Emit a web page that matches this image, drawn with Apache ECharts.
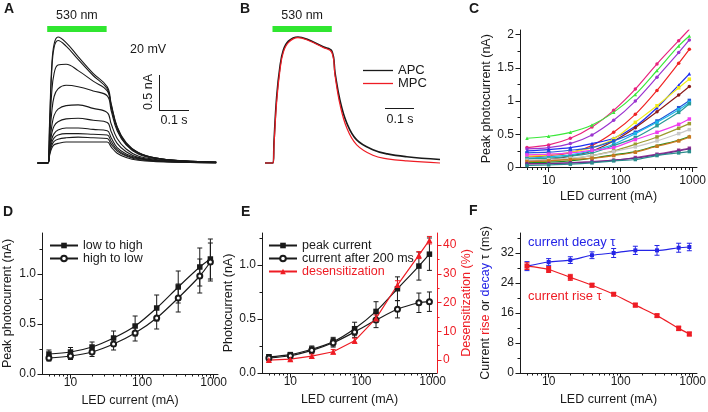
<!DOCTYPE html>
<html>
<head>
<meta charset="utf-8">
<script src="https://cdn.jsdelivr.net/npm/echarts@6/dist/echarts.min.js"></script>
<style>
  html, body { margin: 0; padding: 0; background: #fff; }
  #chart { width: 708px; height: 412px; }
</style>
</head>
<body>
<div id="chart"></div>
<script>
'use strict';

/******************** DATA ********************/
// A: photocurrent traces at increasing LED intensity (time in s from light on, current in nA)
var traceTime = [-0.035, -0.001, 0.005, 0.012, 0.02, 0.033, 0.06, 0.1, 0.15, 0.197, 0.21, 0.23, 0.26, 0.3, 0.36, 0.45, 0.56];
var tracesA = [
  [0, 0, 0.60, 1.38, 1.70, 1.80, 1.72, 1.52, 1.28, 1.09, 0.85, 0.52, 0.29, 0.15, 0.07, 0.03, 0.01],
  [0, 0, 0.55, 1.30, 1.65, 1.75, 1.67, 1.48, 1.25, 1.06, 0.83, 0.51, 0.28, 0.15, 0.07, 0.03, 0.01],
  [0, 0, 0.45, 1.00, 1.28, 1.40, 1.41, 1.32, 1.17, 1.03, 0.80, 0.49, 0.27, 0.14, 0.07, 0.03, 0.01],
  [0, 0, 0.35, 0.72, 0.95, 1.06, 1.11, 1.09, 1.03, 0.96, 0.75, 0.46, 0.26, 0.13, 0.06, 0.03, 0.01],
  [0, 0, 0.27, 0.52, 0.68, 0.77, 0.82, 0.83, 0.78, 0.72, 0.56, 0.35, 0.20, 0.10, 0.05, 0.02, 0.01],
  [0, 0, 0.22, 0.42, 0.53, 0.59, 0.63, 0.64, 0.61, 0.58, 0.45, 0.28, 0.16, 0.08, 0.04, 0.02, 0.01],
  [0, 0, 0.18, 0.34, 0.42, 0.47, 0.50, 0.50, 0.48, 0.46, 0.36, 0.22, 0.13, 0.07, 0.03, 0.02, 0.01],
  [0, 0, 0.15, 0.29, 0.36, 0.40, 0.42, 0.42, 0.41, 0.40, 0.31, 0.19, 0.11, 0.06, 0.03, 0.01, 0.01],
  [0, 0, 0.13, 0.25, 0.31, 0.34, 0.36, 0.37, 0.36, 0.35, 0.27, 0.17, 0.10, 0.05, 0.03, 0.01, 0],
  [0, 0, 0.11, 0.21, 0.26, 0.28, 0.30, 0.30, 0.30, 0.30, 0.23, 0.14, 0.08, 0.04, 0.02, 0.01, 0]
];

// B: APC vs MPC (same scale as A)
var timeB = [-0.028, -0.001, 0.002, 0.011, 0.022, 0.033, 0.05, 0.082, 0.111, 0.166, 0.195, 0.206, 0.222, 0.245, 0.278, 0.332, 0.38, 0.445, 0.556];
var apcTrace = [0, 0, 0.30, 0.95, 1.38, 1.61, 1.74, 1.80, 1.77, 1.66, 1.60, 1.28, 0.90, 0.57, 0.33, 0.19, 0.13, 0.09, 0.05];
var mpcTrace = [0, 0, 0.25, 0.88, 1.33, 1.58, 1.72, 1.79, 1.76, 1.65, 1.58, 1.24, 0.84, 0.50, 0.26, 0.11, 0.06, 0.03, 0.0];
var lightPulse = [-0.003, 0.195];

// LED currents used in C-F (mA)
var ledCurrent = [5, 10, 20, 40, 80, 160, 320, 640, 900];
var logTicks = [10, 100, 1000];
var logMinorTicks = [5, 6, 7, 8, 9, 20, 30, 40, 50, 60, 70, 80, 90, 200, 300, 400, 500, 600, 700, 800, 900];

// C: single cells, peak photocurrent (nA)
var cellCurves = [
  [0.30, 0.34, 0.44, 0.61, 0.86, 1.18, 1.56, 1.91, 2.08],
  [0.44, 0.47, 0.53, 0.64, 0.83, 1.10, 1.46, 1.83, 1.98],
  [0.28, 0.30, 0.36, 0.49, 0.71, 1.00, 1.36, 1.73, 1.92],
  [0.16, 0.18, 0.22, 0.33, 0.53, 0.80, 1.16, 1.57, 1.78],
  [0.25, 0.27, 0.30, 0.36, 0.44, 0.62, 0.90, 1.24, 1.41],
  [0.17, 0.19, 0.23, 0.30, 0.43, 0.68, 0.93, 1.20, 1.33],
  [0.10, 0.12, 0.17, 0.25, 0.40, 0.60, 0.84, 1.09, 1.22],
  [0.22, 0.23, 0.26, 0.30, 0.40, 0.53, 0.70, 0.90, 1.01],
  [0.14, 0.16, 0.19, 0.25, 0.35, 0.51, 0.68, 0.87, 0.98],
  [0.13, 0.14, 0.17, 0.22, 0.33, 0.45, 0.63, 0.83, 0.96],
  [0.19, 0.20, 0.22, 0.26, 0.30, 0.42, 0.53, 0.65, 0.73],
  [0.08, 0.10, 0.13, 0.18, 0.25, 0.35, 0.46, 0.59, 0.66],
  [0.11, 0.12, 0.14, 0.18, 0.24, 0.31, 0.40, 0.51, 0.57],
  [0.07, 0.08, 0.10, 0.14, 0.19, 0.24, 0.33, 0.41, 0.47],
  [0.09, 0.10, 0.12, 0.14, 0.18, 0.23, 0.32, 0.40, 0.46],
  [0.05, 0.06, 0.07, 0.09, 0.11, 0.15, 0.20, 0.26, 0.29],
  [0.06, 0.06, 0.07, 0.08, 0.11, 0.14, 0.19, 0.25, 0.28],
  [0.03, 0.04, 0.05, 0.07, 0.10, 0.12, 0.18, 0.22, 0.24]
];
var cellColors = ['#e8237d', '#3be83b', '#9b35d0', '#f02424', '#1f2ef0', '#f0ec1a', '#8c1c1c', '#2457d6', '#19b8e8',
                  '#2a9a96', '#f03cf0', '#9c9a2e', '#c8c8c8', '#1e8c1e', '#c8781e', '#9a3a9a', '#6e2a8c', '#2a8c8c'];
var cellSymbols = ['circle', 'triangle', 'circle', 'circle', 'triangle', 'rect', 'circle', 'rect', 'rect',
                   'rect', 'rect', 'rect', 'rect', 'triangle', 'rect', 'rect', 'circle', 'rect'];

// D: order of stimulation (nA, mean and error)
var lowToHigh = [0.20, 0.22, 0.27, 0.36, 0.48, 0.66, 0.87, 1.07, 1.15];
var lowToHighErr = [0.04, 0.045, 0.05, 0.07, 0.10, 0.13, 0.16, 0.19, 0.20];
var highToLow = [0.16, 0.18, 0.22, 0.30, 0.41, 0.56, 0.76, 0.98, 1.12];
var highToLowErr = [0.03, 0.035, 0.045, 0.06, 0.08, 0.11, 0.14, 0.17, 0.19];

// E: peak vs sustained current (nA) and desensitization (%)
var peakCurrent = [0.15, 0.17, 0.22, 0.29, 0.41, 0.57, 0.78, 0.99, 1.10];
var peakErr = [0.02, 0.02, 0.03, 0.04, 0.06, 0.09, 0.11, 0.13, 0.15];
var after200 = [0.14, 0.16, 0.21, 0.28, 0.38, 0.49, 0.59, 0.65, 0.66];
var after200Err = [0.02, 0.02, 0.03, 0.04, 0.05, 0.07, 0.08, 0.09, 0.09];
var desens = [0.0, 0.3, 1.4, 2.9, 6.7, 14.5, 26.1, 36.5, 41.7];
var desensErr = [0.6, 0.6, 0.7, 0.8, 0.9, 1.2, 1.5, 1.2, 1.3];

// F: time constants (ms)
var decayTau = [28.5, 29.6, 30.1, 31.4, 32.0, 32.7, 32.7, 33.4, 33.6];
var decayErr = [1.2, 0.9, 0.9, 0.9, 1.2, 1.1, 1.3, 1.2, 1.0];
var riseTau = [28.5, 27.6, 25.5, 23.4, 21.0, 18.1, 15.3, 11.9, 10.4];
var riseErr = [0.9, 0.8, 0.8, 0.5, 0.4, 0.5, 0.4, 0.6, 0.5];

/******************** HELPERS ********************/
var font = 'Liberation Sans, Arial, Helvetica, sans-serif';
var ink = '#1a1a1a';
var red = '#ee1c24';
var blue = '#2424e6';

function pairs(xs, ys) {
  return xs.map(function (x, i) { return [x, ys[i]]; });
}

function errorBars(xi, yi, vals, errs, color, cap) {
  return {
    type: 'custom', xAxisIndex: xi, yAxisIndex: yi, z: 1, silent: true,
    data: ledCurrent.map(function (x, i) { return [x, vals[i] - errs[i], vals[i] + errs[i]]; }),
    encode: { x: 0, y: [1, 2] },
    renderItem: function (params, api) {
      var lo = api.coord([api.value(0), api.value(1)]);
      var hi = api.coord([api.value(0), api.value(2)]);
      var st = { stroke: color, lineWidth: 1 };
      return {
        type: 'group', children: [
          { type: 'line', shape: { x1: lo[0], y1: lo[1], x2: hi[0], y2: hi[1] }, style: st },
          { type: 'line', shape: { x1: lo[0] - cap, y1: lo[1], x2: lo[0] + cap, y2: lo[1] }, style: st },
          { type: 'line', shape: { x1: hi[0] - cap, y1: hi[1], x2: hi[0] + cap, y2: hi[1] }, style: st }
        ]
      };
    }
  };
}

// log LED-current axis, major + minor pair
function logX(grid, margin, gap) {
  var base = {
    type: 'log', logBase: 10, gridIndex: grid, min: 4, max: 1150, position: 'bottom',
    splitLine: { show: false }
  };
  var major = Object.assign({}, base, {
    axisLine: { onZero: false, lineStyle: { color: ink, width: 1 } },
    axisTick: { customValues: logTicks, length: 4.5, lineStyle: { color: ink } },
    axisLabel: { customValues: logTicks, margin: margin, fontSize: 12, fontFamily: font, color: ink,
                 formatter: function (v) { return String(Math.round(v)); } },
    name: 'LED current (mA)', nameLocation: 'middle', nameGap: gap,
    nameTextStyle: { fontSize: 12.5, fontFamily: font, color: ink }
  });
  var minor = Object.assign({}, base, {
    axisLine: { show: false, onZero: false },
    axisTick: { customValues: logMinorTicks, length: 2.5, lineStyle: { color: ink } },
    axisLabel: { show: false }
  });
  return [major, minor];
}

function valY(grid, min, max, ticks, minorTicks, opt) {
  var color = opt.color || ink;
  var pos = opt.position || 'left';
  var base = { type: 'value', gridIndex: grid, min: min, max: max, position: pos, splitLine: { show: false } };
  var major = Object.assign({}, base, {
    axisLine: { show: true, onZero: false, lineStyle: { color: color, width: 1 } },
    axisTick: { show: true, customValues: ticks, length: 4.5, lineStyle: { color: color } },
    axisLabel: { customValues: ticks, margin: 6, fontSize: 12, fontFamily: font, color: color,
                 formatter: opt.formatter },
    name: opt.name, nameLocation: 'middle', nameRotate: 90, nameGap: opt.gap,
    nameTextStyle: Object.assign({ fontSize: 12.5, fontFamily: font, color: color }, opt.nameStyle || {})
  });
  var minor = Object.assign({}, base, {
    axisLine: { show: false, onZero: false },
    axisTick: { show: true, customValues: minorTicks, length: 2.5, lineStyle: { color: color } },
    axisLabel: { show: false }
  });
  return [major, minor];
}

function oneDecimal(v) { return Number(v).toFixed(1); }

/******************** CHART ********************/
var chart = echarts.init(document.getElementById('chart'));

var xAxes = [
  { type: 'value', gridIndex: 0, min: -0.037, max: 0.556, show: false },
  { type: 'value', gridIndex: 1, min: -0.028, max: 0.556, show: false }
]
  .concat(logX(2, 7, 23))
  .concat(logX(3, 3, 20))
  .concat(logX(4, 3, 20))
  .concat(logX(5, 3, 20));

var yAxes = [
  { type: 'value', gridIndex: 0, min: -0.1, max: 2.043, show: false },
  { type: 'value', gridIndex: 1, min: -0.1, max: 2.043, show: false }
]
  .concat(valY(2, 0, 2.07, [0, 0.5, 1, 1.5, 2], [0.25, 0.75, 1.25, 1.75],
               { name: 'Peak photocurrent (nA)', gap: 24 }))
  .concat(valY(3, 0, 1.41, [0, 0.5, 1.0], [0.25, 0.75, 1.25],
               { name: 'Peak photocurrent (nA)', gap: 28, formatter: oneDecimal }))
  .concat(valY(4, 0, 1.296, [0, 0.5, 1.0], [0.25, 0.75, 1.25],
               { name: 'Photocurrent (nA)', gap: 27, formatter: oneDecimal }))
  .concat(valY(4, -4.5, 44.2, [0, 10, 20, 30, 40], [5, 15, 25, 35],
               { name: 'Desensitization (%)', gap: 23, color: red, position: 'right' }))
  .concat(valY(5, 0, 37.33, [0, 8, 16, 24, 32], [4, 12, 20, 28, 36],
               { name: '{k|Current }{r|rise}{k| or }{b|decay}{k| \u03c4 (ms)}', gap: 28,
                 nameStyle: { rich: {
                   k: { color: ink, fontSize: 12.5, fontFamily: font },
                   r: { color: red, fontSize: 12.5, fontFamily: font },
                   b: { color: blue, fontSize: 12.5, fontFamily: font }
                 } } }));

var series = [];

var pulseMark = {
  silent: true,
  itemStyle: { color: '#30e630', opacity: 1 },
  label: { show: true, position: 'top', distance: 4, fontSize: 12.5, fontFamily: font, color: ink, formatter: '530 nm' },
  data: [[{ xAxis: lightPulse[0], yAxis: 1.871 }, { xAxis: lightPulse[1], yAxis: 1.957 }]]
};

// A traces
tracesA.forEach(function (tr, i) {
  var s = {
    type: 'line', xAxisIndex: 0, yAxisIndex: 0, data: pairs(traceTime, tr),
    symbol: 'none', smooth: 0.4,
    lineStyle: { color: ink, width: 1.1 }
  };
  if (i === 0) s.markArea = pulseMark;
  series.push(s);
});

// B traces
series.push({
  name: 'APC', type: 'line', xAxisIndex: 1, yAxisIndex: 1, data: pairs(timeB, apcTrace),
  symbol: 'none', smooth: 0.4, lineStyle: { color: ink, width: 1.6 }, itemStyle: { color: ink },
  markArea: pulseMark
});
series.push({
  name: 'MPC', type: 'line', xAxisIndex: 1, yAxisIndex: 1, data: pairs(timeB, mpcTrace),
  symbol: 'none', smooth: 0.4, lineStyle: { color: red, width: 1.2 }, itemStyle: { color: red }
});

// C cells
cellCurves.forEach(function (vals, i) {
  series.push({
    type: 'line', xAxisIndex: 2, yAxisIndex: 2, data: pairs(ledCurrent, vals),
    smooth: 0.3, symbol: cellSymbols[i], symbolSize: 3.5,
    lineStyle: { color: cellColors[i], width: 1.2 }, itemStyle: { color: cellColors[i] }
  });
});

// D
series.push(errorBars(4, 4, lowToHigh, lowToHighErr, ink, 2.5));
series.push(errorBars(4, 4, highToLow, highToLowErr, ink, 2.5));
series.push({
  name: 'low to high', type: 'line', xAxisIndex: 4, yAxisIndex: 4, data: pairs(ledCurrent, lowToHigh),
  smooth: 0.3, symbol: 'rect', symbolSize: 5.5, z: 3,
  lineStyle: { color: ink, width: 1.2 }, itemStyle: { color: ink }
});
series.push({
  name: 'high to low', type: 'line', xAxisIndex: 4, yAxisIndex: 4, data: pairs(ledCurrent, highToLow),
  smooth: 0.3, symbol: 'emptyCircle', symbolSize: 5, z: 3,
  lineStyle: { color: ink, width: 1.2 }, itemStyle: { color: ink, borderColor: ink, borderWidth: 1 }
});

// E
series.push(errorBars(6, 6, peakCurrent, peakErr, ink, 2.5));
series.push(errorBars(6, 6, after200, after200Err, ink, 2.5));
series.push(errorBars(6, 8, desens, desensErr, red, 2.5));
series.push({
  name: 'peak current', type: 'line', xAxisIndex: 6, yAxisIndex: 6, data: pairs(ledCurrent, peakCurrent),
  smooth: 0.3, symbol: 'rect', symbolSize: 5.5, z: 3,
  lineStyle: { color: ink, width: 1.2 }, itemStyle: { color: ink }
});
series.push({
  name: 'current after 200 ms', type: 'line', xAxisIndex: 6, yAxisIndex: 6, data: pairs(ledCurrent, after200),
  smooth: 0.3, symbol: 'emptyCircle', symbolSize: 5, z: 3,
  lineStyle: { color: ink, width: 1.2 }, itemStyle: { color: ink, borderColor: ink, borderWidth: 1 }
});
series.push({
  name: 'desensitization', type: 'line', xAxisIndex: 6, yAxisIndex: 8, data: pairs(ledCurrent, desens),
  symbol: 'triangle', symbolSize: 6, z: 3,
  lineStyle: { color: red, width: 1.2 }, itemStyle: { color: red }
});

// F
series.push(errorBars(8, 10, decayTau, decayErr, blue, 2.5));
series.push(errorBars(8, 10, riseTau, riseErr, red, 2.5));
series.push({
  type: 'line', xAxisIndex: 8, yAxisIndex: 10, data: pairs(ledCurrent, decayTau),
  smooth: 0.3, symbol: 'rect', symbolSize: 4, z: 3,
  lineStyle: { color: blue, width: 1.2 }, itemStyle: { color: blue }
});
series.push({
  type: 'line', xAxisIndex: 8, yAxisIndex: 10, data: pairs(ledCurrent, riseTau),
  smooth: 0.3, symbol: 'rect', symbolSize: 5, z: 3,
  lineStyle: { color: red, width: 1.2 }, itemStyle: { color: red }
});

function txt(x, y, text, opt) {
  opt = opt || {};
  return {
    type: 'text', x: x, y: y, rotation: opt.rotation || 0, silent: true,
    style: {
      text: text, fill: opt.color || ink, align: opt.align || 'left', verticalAlign: 'middle',
      font: (opt.bold ? 'bold ' : '') + (opt.size || 12.5) + 'px ' + font
    }
  };
}
function seg(x1, y1, x2, y2) {
  return { type: 'line', silent: true, shape: { x1: x1, y1: y1, x2: x2, y2: y2 }, style: { stroke: ink, lineWidth: 1 } };
}

var legendText = { fontSize: 12.5, fontFamily: font, color: ink };

var option = {
  animation: false,
  backgroundColor: '#fff',
  grid: [
    { left: 37, top: 20, width: 178, height: 150, outerBoundsMode: 'none' },
    { left: 265, top: 20, width: 175, height: 150, outerBoundsMode: 'none' },
    { left: 520, top: 30, width: 177, height: 137.5, outerBoundsMode: 'none' },
    { left: 42, top: 233, width: 176, height: 141, outerBoundsMode: 'none' },
    { left: 262, top: 233, width: 175, height: 140, outerBoundsMode: 'none' },
    { left: 520, top: 233, width: 177, height: 140, outerBoundsMode: 'none' }
  ],
  legend: [
    { data: ['APC', 'MPC'], left: 358, top: 59, orient: 'vertical', icon: 'rect', itemWidth: 30, itemHeight: 1.3, itemGap: 0,
      textStyle: { fontSize: 13, fontFamily: font, color: ink, padding: [1, 0, 1, 0] }, selectedMode: false },
    { data: ['low to high', 'high to low'], left: 44, top: 234, orient: 'vertical', itemWidth: 28, itemHeight: 7, itemGap: 0,
      textStyle: legendText, selectedMode: false },
    { data: ['peak current', 'current after 200 ms', { name: 'desensitization', textStyle: { color: red } }],
      left: 263, top: 234, orient: 'vertical', itemWidth: 28, itemHeight: 7, itemGap: 0,
      textStyle: legendText, selectedMode: false }
  ],
  xAxis: xAxes,
  yAxis: yAxes,
  series: series,
  graphic: [
    txt(4, 9, 'A', { bold: true, size: 14 }),
    txt(240, 9, 'B', { bold: true, size: 14 }),
    txt(469, 9, 'C', { bold: true, size: 14 }),
    txt(3, 212, 'D', { bold: true, size: 14 }),
    txt(241, 212, 'E', { bold: true, size: 14 }),
    txt(469, 211, 'F', { bold: true, size: 14 }),
    txt(130, 50, '20 mV'),
    seg(159.5, 75, 159.5, 110.5),
    seg(159, 110.5, 189, 110.5),
    txt(149, 92, '0.5 nA', { rotation: Math.PI / 2, align: 'center' }),
    txt(174, 121, '0.1 s', { align: 'center' }),
    seg(385, 108.5, 414, 108.5),
    txt(400, 120, '0.1 s', { align: 'center' }),
    txt(528, 242, 'current decay \u03c4', { color: blue, size: 13 }),
    txt(528, 296, 'current rise \u03c4', { color: red, size: 13 })
  ]
};

chart.setOption(option);
</script>
</body>
</html>
